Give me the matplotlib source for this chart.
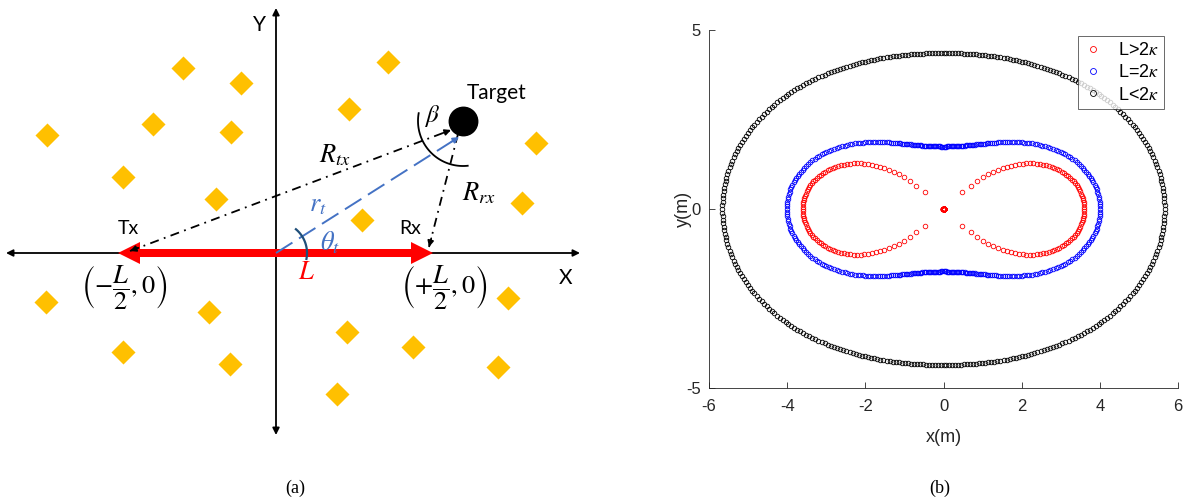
import numpy as np
import matplotlib.pyplot as plt

plt.rcParams['mathtext.fontset'] = 'stix'
plt.rcParams['axes.unicode_minus'] = False

# panel (a): scene layout, picture pixels (x right, y down)
scatter_x = [183, 241, 388, 349, 153, 231, 47, 536, 123, 216, 522, 362,
             46, 209, 508, 347, 413, 123, 230, 498, 337]
scatter_y = [68, 83, 62, 109, 124, 132, 135, 143, 177, 199, 203, 220,
             302, 312, 298, 332, 347, 352, 364, 367, 394]
origin = (276, 253)
tx = (118, 253)
rx = (433, 253)
target = (463, 121)

# panel (b): Cassini ovals
half_baseline = 2.55             # L/2 (m)
kappa = [2.55, 3.09, 5.05]       # product constant per curve (m)
curve_labels = [r'L>2$\kappa$', r'L=2$\kappa$', r'L<2$\kappa$']
curve_colors = ['#ff0000', '#0000ff', '#000000']
angle_step = 1.0                 # deg between markers
xticks = [-6, -4, -2, 0, 2, 4, 6]
yticks = [-5, 0, 5]

fig = plt.figure(figsize=(11.89, 5.04), dpi=100)

# ---------------- (a) ----------------
ax = fig.add_axes([0, 0, 595 / 1189, 1])
ax.set_xlim(0, 595)
ax.set_ylim(504, 0)
ax.axis('off')

ax.scatter(scatter_x, scatter_y, marker='D', s=150, color='#ffc000', lw=0, zorder=1)

arr = dict(arrowstyle='<|-|>', color='k', lw=1.3, mutation_scale=10, shrinkA=0, shrinkB=0)
ax.annotate('', xy=(6, origin[1]), xytext=(580, origin[1]), arrowprops=arr, zorder=2)
ax.annotate('', xy=(origin[0], 8), xytext=(origin[0], 435), arrowprops=arr, zorder=2)

for end in (tx, rx):
    ax.arrow(origin[0], origin[1], end[0] - origin[0], 0, width=8, head_width=22,
             head_length=22, length_includes_head=True, color='red', lw=0, zorder=3)


def head(tip, frm, color='k'):
    d = np.array(tip, float) - np.array(frm, float)
    d = d / np.hypot(*d)
    ax.annotate('', xy=tip, xytext=tuple(np.array(tip) - 9 * d),
                arrowprops=dict(arrowstyle='-|>', color=color, lw=1.2,
                                mutation_scale=9, shrinkA=0, shrinkB=0), zorder=5)


# R_tx
p0, p1 = (130, 251), (451, 130)
ax.plot([p0[0], p1[0]], [p0[1], p1[1]], color='k', lw=1.3, dashes=(5, 3, 1, 3), zorder=4)
head(p0, p1)
head(p1, p0)
# R_rx
q0, q1 = (458, 134), (429, 247)
ax.plot([q0[0], q1[0]], [q0[1], q1[1]], color='k', lw=1.3, dashes=(5, 3, 1, 3), zorder=4)
head(q1, q0)
# r_t
b1 = (459, 137)
ax.plot([origin[0], b1[0]], [origin[1], b1[1]], color='#4472c4', lw=1.4, dashes=(10, 4), zorder=4)
head(b1, origin, '#4472c4')

ax.scatter([target[0]], [target[1]], s=420, color='k', zorder=6)

t = np.deg2rad(np.linspace(170, 276, 60))
ax.plot(target[0] + 45 * np.cos(t), target[1] - 45 * np.sin(t), color='k', lw=1.3, zorder=4)
t = np.deg2rad(np.linspace(-11, 50, 40))
ax.plot(origin[0] + 31 * np.cos(t), origin[1] - 31 * np.sin(t), color='#1f4e79', lw=1.6, zorder=4)

sans = 'Lato'
ax.text(259, 25, 'Y', fontsize=15, family=sans, ha='center', va='center')
ax.text(566, 278, 'X', fontsize=15, family=sans, ha='center', va='center')
ax.text(128, 229, 'Tx', fontsize=14, family=sans, ha='center', va='center')
ax.text(410, 229, 'Rx', fontsize=14, family=sans, ha='center', va='center')
ax.text(497, 93, 'Target', fontsize=15, family=sans, ha='center', va='center')
ax.text(432, 116, r'$\beta$', fontsize=18, ha='center', va='center')
ax.text(335, 155, r'$R_{tx}$', fontsize=19, ha='center', va='center')
ax.text(479, 193, r'$R_{rx}$', fontsize=19, ha='center', va='center')
ax.text(318, 204, r'$r_t$', fontsize=19, color='#4472c4', ha='center', va='center')
ax.text(330, 243, r'$\theta_t$', fontsize=19, color='#4472c4', ha='center', va='center')
ax.text(306, 272, r'$L$', fontsize=19, color='red', ha='center', va='center')
ax.text(124, 287, r'$\left(-\dfrac{L}{2},0\right)$', fontsize=19, ha='center', va='center')
ax.text(444, 287, r'$\left(+\dfrac{L}{2},0\right)$', fontsize=19, ha='center', va='center')
ax.text(295, 488, '(a)', fontsize=13, family='Liberation Serif', ha='center', va='center')

# ---------------- (b) ----------------
bx = fig.add_axes([709 / 1189, 116 / 504, 469 / 1189, 358 / 504])
th = np.deg2rad(np.arange(0, 360, angle_step))
a = half_baseline
for k, lab, c in zip(kappa, curve_labels, curve_colors):
    disc = np.clip(k ** 4 - a ** 4 * np.sin(2 * th) ** 2, 0, None)
    r = np.sqrt(np.clip(a ** 2 * np.cos(2 * th) + np.sqrt(disc), 0, None))
    bx.plot(r * np.cos(th), r * np.sin(th), 'o', mfc='none', mec=c, ms=3.3,
            mew=0.6, label=lab)

bx.set_xlim(-6, 6)
bx.set_ylim(-5, 5)
bx.set_xticks(xticks)
bx.set_yticks(yticks)
for s in ('top', 'right'):
    bx.spines[s].set_visible(False)
for s in ('left', 'bottom'):
    bx.spines[s].set_color('#262626')
    bx.spines[s].set_linewidth(0.6)
bx.tick_params(direction='in', length=4, width=0.6, color='#262626',
               labelsize=12, labelcolor='#262626')
bx.tick_params(axis='x', pad=8)
bx.tick_params(axis='y', pad=6)
for lbl in bx.get_xticklabels() + bx.get_yticklabels():
    lbl.set_family('Liberation Sans')
bx.set_xlabel('x(m)', fontsize=13, family='Liberation Sans', color='#262626')
bx.set_ylabel('y(m)', fontsize=13, family='Liberation Sans', color='#262626')
bx.xaxis.set_label_coords(0.5, -0.115)
bx.yaxis.set_label_coords(-0.036, 0.5)
leg = bx.legend(loc='upper right', bbox_to_anchor=(0.971, 0.982), fancybox=False,
                edgecolor='#262626', handlelength=1.0, markerscale=1.3,
                handletextpad=0.9, borderpad=0.3, labelspacing=0.3,
                borderaxespad=0, prop={'family': 'Liberation Sans', 'size': 13})
leg.get_frame().set_linewidth(0.6)

fig.text(940 / 1189, 1 - 488 / 504, '(b)', fontsize=13, family='Liberation Serif',
         ha='center', va='center')

fig.savefig('out.png', dpi=100)
